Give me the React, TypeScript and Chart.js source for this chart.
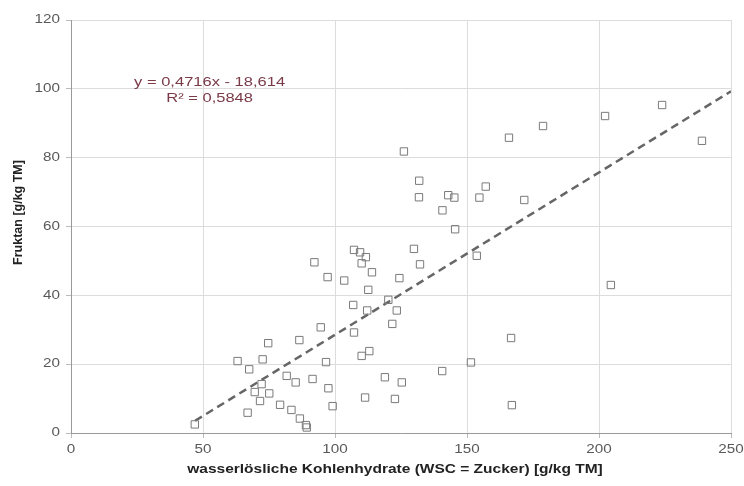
import React, { useEffect, useRef } from "react";
import { Chart, registerables } from "chart.js";

Chart.register(...registerables);

// WSC (x) values, g/kg TM
const wscValues = [
  46.9, 66.9, 63.1, 67.5, 72.6, 74.7, 72.2, 69.6, 75.1, 71.6,
  79.2, 83.5, 86.7, 89.3, 89.0, 81.7, 85.1, 86.5, 91.5, 94.6,
  96.6, 97.5, 99.1, 92.2, 97.2, 103.5, 107.2, 109.5, 111.7, 110.1,
  114.0, 112.6, 106.9, 112.2, 107.2, 110.1, 113.0, 111.4, 118.9, 120.2,
  121.7, 123.4, 122.7, 125.3, 124.4, 129.9, 132.2, 126.1, 131.9, 131.8,
  140.7, 142.9, 145.2, 145.5, 140.6, 151.5, 153.7, 154.7, 157.1, 165.9,
  166.7, 167.0, 171.7, 178.8, 202.3, 204.5, 223.9, 239.0,
];
// Fruktan (y) values, g/kg TM
const fruktanValues = [
  2.5, 5.9, 20.9, 18.5, 21.4, 26.1, 14.2, 11.9, 11.5, 9.3,
  8.2, 6.7, 4.2, 1.6, 2.3, 16.6, 14.7, 27.0, 15.7, 30.7,
  20.6, 13.0, 7.8, 49.6, 45.3, 44.3, 53.2, 52.5, 51.1, 49.3,
  46.7, 41.6, 37.2, 35.6, 29.2, 22.4, 23.8, 10.3, 16.2, 38.7,
  31.7, 35.6, 9.9, 14.7, 45.0, 53.5, 49.0, 81.8, 73.3, 68.5,
  64.7, 69.1, 68.4, 59.2, 18.0, 20.5, 51.5, 68.4, 71.6, 85.8,
  27.6, 8.1, 67.7, 89.2, 92.1, 43.0, 95.3, 84.9,
];

// Linear trendline from the chart's equation
const trendSlope = 0.4716;
const trendIntercept = -18.614;
const trendXRange = [47, 250];

const xTicks = [0, 50, 100, 150, 200, 250];
const yTicks = [0, 20, 40, 60, 80, 100, 120];

const equationLines = ["y = 0,4716x - 18,614", "R² = 0,5848"];
const equationAnchor = { x: 52.5, y: 102 };

const xTitle = "wasserlösliche Kohlenhydrate (WSC = Zucker) [g/kg TM]";
const yTitle = "Fruktan [g/kg TM]";

const FONT = "'Liberation Sans', Arial, sans-serif";
const STRETCH = 1.27;

function drawStretched(
  ctx: CanvasRenderingContext2D,
  text: string,
  x: number,
  y: number,
  align: CanvasTextAlign,
  font: string,
  color: string,
  sx: number
) {
  ctx.save();
  ctx.translate(x, y);
  ctx.scale(sx, 1);
  ctx.font = font;
  ctx.fillStyle = color;
  ctx.textAlign = align;
  ctx.textBaseline = "middle";
  ctx.fillText(text, 0, 0);
  ctx.restore();
}

const textPlugin = {
  id: "chartText",
  afterDraw(chart: any) {
    const { ctx, scales, chartArea } = chart;
    const xs = scales.x;
    const ys = scales.y;

    // tick labels
    yTicks.forEach((v) => {
      drawStretched(ctx, String(v), chartArea.left - 11, ys.getPixelForValue(v), "right", `12px ${FONT}`, "#595959", STRETCH);
    });
    xTicks.forEach((v) => {
      drawStretched(ctx, String(v), xs.getPixelForValue(v), chartArea.bottom + 17, "center", `12px ${FONT}`, "#595959", STRETCH);
    });

    // axis titles
    drawStretched(ctx, xTitle, (chartArea.left + chartArea.right) / 2 - 6, chartArea.bottom + 37, "center", `bold 12.5px ${FONT}`, "#222222", 1.24);
    ctx.save();
    ctx.translate(19, (chartArea.top + chartArea.bottom) / 2 - 14);
    ctx.rotate(-Math.PI / 2);
    ctx.font = `bold 12.5px ${FONT}`;
    ctx.fillStyle = "#222222";
    ctx.textAlign = "center";
    ctx.textBaseline = "middle";
    ctx.fillText(yTitle, 0, 0);
    ctx.restore();

    // trendline equation
    const px = xs.getPixelForValue(equationAnchor.x);
    const py = ys.getPixelForValue(equationAnchor.y);
    equationLines.forEach((line, i) => {
      drawStretched(ctx, line, px, py + i * 16, "center", `13px ${FONT}`, "#7a3a48", STRETCH);
    });
  },
};

export default function App() {
  const canvasRef = useRef<HTMLCanvasElement | null>(null);

  useEffect(() => {
    document.body.style.margin = "0";
    const canvas = canvasRef.current;
    if (!canvas) return;
    const points = wscValues.map((x, i) => ({ x, y: fruktanValues[i] }));
    const trend = trendXRange.map((x) => ({ x, y: trendSlope * x + trendIntercept }));

    const chart = new Chart(canvas, {
      type: "scatter",
      data: {
        datasets: [
          {
            label: "Fruktan",
            data: points,
            pointStyle: "rect",
            pointRadius: 5.2,
            pointBorderWidth: 1,
            pointBorderColor: "#7a7a7a",
            pointBackgroundColor: "rgba(255,255,255,0)",
            showLine: false,
          },
          {
            label: "Trend",
            data: trend,
            showLine: true,
            borderColor: "#666666",
            borderWidth: 2.5,
            borderDash: [8, 5],
            pointRadius: 0,
            fill: false,
          } as any,
        ],
      },
      options: {
        animation: false,
        responsive: false,
        layout: { padding: { top: 20, right: 13, left: 0, bottom: 0 } },
        plugins: {
          legend: { display: false },
          tooltip: { enabled: false },
        },
        scales: {
          x: {
            type: "linear",
            min: 0,
            max: 250,
            afterFit: (s: any) => {
              s.height = 53;
            },
            afterBuildTicks: (s: any) => {
              s.ticks = xTicks.map((v) => ({ value: v }));
            },
            ticks: { display: false },
            grid: { color: "#dcdcdc", tickLength: 5, tickColor: "#bbbbbb" },
            border: { color: "#9a9a9a" },
          },
          y: {
            type: "linear",
            min: 0,
            max: 120,
            afterFit: (s: any) => {
              s.width = 71;
            },
            afterBuildTicks: (s: any) => {
              s.ticks = yTicks.map((v) => ({ value: v }));
            },
            ticks: { display: false },
            grid: { color: "#dcdcdc", tickLength: 5, tickColor: "#bbbbbb" },
            border: { color: "#9a9a9a" },
          },
        },
      },
      plugins: [textPlugin],
    });
    return () => chart.destroy();
  }, []);

  return (
    <div style={{ width: 744, height: 486, background: "#ffffff" }}>
      <canvas ref={canvasRef} width={744} height={486} />
    </div>
  );
}
